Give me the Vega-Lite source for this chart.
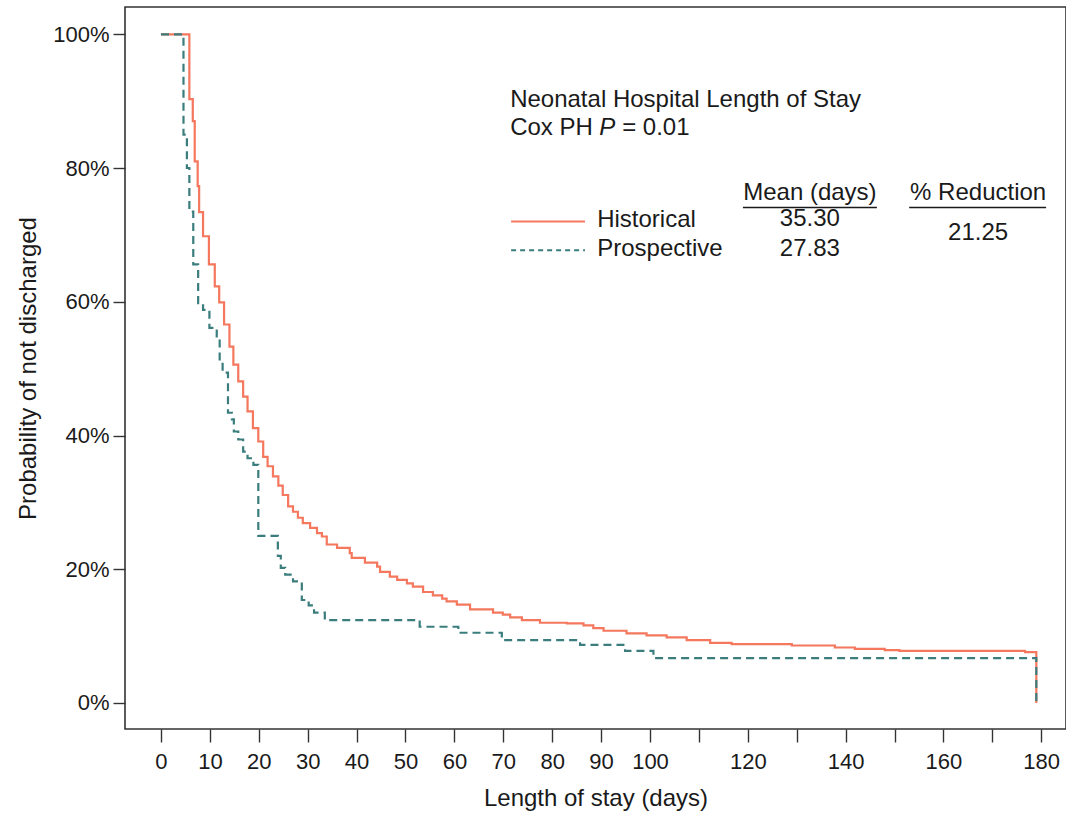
{
  "$schema": "https://vega.github.io/schema/vega-lite/v6.json",
  "width": 941,
  "height": 722,
  "autosize": "none",
  "padding": {"left": 125, "top": 7, "right": 0, "bottom": 90},
  "background": "white",
  "datasets": {
    "km": [
      {"group": "Historical", "day": 0, "surv": 1.0},
      {"group": "Historical", "day": 5.8, "surv": 0.903},
      {"group": "Historical", "day": 6.5, "surv": 0.87},
      {"group": "Historical", "day": 6.9, "surv": 0.81},
      {"group": "Historical", "day": 7.5, "surv": 0.773},
      {"group": "Historical", "day": 7.8, "surv": 0.734},
      {"group": "Historical", "day": 8.6, "surv": 0.698},
      {"group": "Historical", "day": 9.8, "surv": 0.656},
      {"group": "Historical", "day": 11.0, "surv": 0.623},
      {"group": "Historical", "day": 11.9, "surv": 0.599},
      {"group": "Historical", "day": 12.9, "surv": 0.566},
      {"group": "Historical", "day": 14.0, "surv": 0.533},
      {"group": "Historical", "day": 14.8, "surv": 0.506},
      {"group": "Historical", "day": 15.8, "surv": 0.481},
      {"group": "Historical", "day": 16.8, "surv": 0.458},
      {"group": "Historical", "day": 17.7, "surv": 0.436},
      {"group": "Historical", "day": 18.8, "surv": 0.411},
      {"group": "Historical", "day": 19.9, "surv": 0.391},
      {"group": "Historical", "day": 20.9, "surv": 0.368},
      {"group": "Historical", "day": 21.8, "surv": 0.354},
      {"group": "Historical", "day": 22.9, "surv": 0.339},
      {"group": "Historical", "day": 24.0, "surv": 0.325},
      {"group": "Historical", "day": 24.9, "surv": 0.311},
      {"group": "Historical", "day": 26.0, "surv": 0.294},
      {"group": "Historical", "day": 27.0, "surv": 0.286},
      {"group": "Historical", "day": 28.0, "surv": 0.277},
      {"group": "Historical", "day": 29.0, "surv": 0.269},
      {"group": "Historical", "day": 30.5, "surv": 0.262},
      {"group": "Historical", "day": 31.9, "surv": 0.254},
      {"group": "Historical", "day": 32.9, "surv": 0.249},
      {"group": "Historical", "day": 33.9, "surv": 0.237},
      {"group": "Historical", "day": 36.0, "surv": 0.232},
      {"group": "Historical", "day": 38.6, "surv": 0.224},
      {"group": "Historical", "day": 39.0, "surv": 0.217},
      {"group": "Historical", "day": 41.7, "surv": 0.21},
      {"group": "Historical", "day": 44.2, "surv": 0.204},
      {"group": "Historical", "day": 44.8, "surv": 0.196},
      {"group": "Historical", "day": 46.8, "surv": 0.189},
      {"group": "Historical", "day": 48.3, "surv": 0.184},
      {"group": "Historical", "day": 50.3, "surv": 0.179},
      {"group": "Historical", "day": 51.5, "surv": 0.174},
      {"group": "Historical", "day": 53.6, "surv": 0.166},
      {"group": "Historical", "day": 55.6, "surv": 0.161},
      {"group": "Historical", "day": 57.5, "surv": 0.156},
      {"group": "Historical", "day": 58.4, "surv": 0.152},
      {"group": "Historical", "day": 60.5, "surv": 0.147},
      {"group": "Historical", "day": 63.2, "surv": 0.14},
      {"group": "Historical", "day": 67.9, "surv": 0.135},
      {"group": "Historical", "day": 69.9, "surv": 0.132},
      {"group": "Historical", "day": 71.4, "surv": 0.128},
      {"group": "Historical", "day": 73.8, "surv": 0.124},
      {"group": "Historical", "day": 77.5, "surv": 0.12},
      {"group": "Historical", "day": 83.0, "surv": 0.119},
      {"group": "Historical", "day": 86.4, "surv": 0.116},
      {"group": "Historical", "day": 88.4, "surv": 0.112},
      {"group": "Historical", "day": 90.5, "surv": 0.108},
      {"group": "Historical", "day": 95.2, "surv": 0.104},
      {"group": "Historical", "day": 99.3, "surv": 0.101},
      {"group": "Historical", "day": 103.4, "surv": 0.098},
      {"group": "Historical", "day": 107.5, "surv": 0.094},
      {"group": "Historical", "day": 112.3, "surv": 0.09},
      {"group": "Historical", "day": 116.7, "surv": 0.088},
      {"group": "Historical", "day": 129.0, "surv": 0.086},
      {"group": "Historical", "day": 137.8, "surv": 0.083},
      {"group": "Historical", "day": 141.9, "surv": 0.081},
      {"group": "Historical", "day": 148.0, "surv": 0.079},
      {"group": "Historical", "day": 151.0, "surv": 0.078},
      {"group": "Historical", "day": 176.7, "surv": 0.076},
      {"group": "Historical", "day": 179.0, "surv": 0.0},
      {"group": "Prospective", "day": 0, "surv": 1.0},
      {"group": "Prospective", "day": 4.6, "surv": 0.85},
      {"group": "Prospective", "day": 5.3, "surv": 0.8},
      {"group": "Prospective", "day": 5.8, "surv": 0.735},
      {"group": "Prospective", "day": 6.6, "surv": 0.656},
      {"group": "Prospective", "day": 7.6, "surv": 0.598},
      {"group": "Prospective", "day": 8.6, "surv": 0.588},
      {"group": "Prospective", "day": 9.9, "surv": 0.561},
      {"group": "Prospective", "day": 11.4, "surv": 0.546},
      {"group": "Prospective", "day": 12.0, "surv": 0.51},
      {"group": "Prospective", "day": 12.6, "surv": 0.494},
      {"group": "Prospective", "day": 13.7, "surv": 0.434},
      {"group": "Prospective", "day": 14.5, "surv": 0.424},
      {"group": "Prospective", "day": 14.9, "surv": 0.406},
      {"group": "Prospective", "day": 15.8, "surv": 0.394},
      {"group": "Prospective", "day": 16.8, "surv": 0.376},
      {"group": "Prospective", "day": 17.7, "surv": 0.366},
      {"group": "Prospective", "day": 18.9, "surv": 0.356},
      {"group": "Prospective", "day": 19.9, "surv": 0.25},
      {"group": "Prospective", "day": 23.9, "surv": 0.22},
      {"group": "Prospective", "day": 24.5, "surv": 0.202},
      {"group": "Prospective", "day": 25.4, "surv": 0.192},
      {"group": "Prospective", "day": 27.0, "surv": 0.182},
      {"group": "Prospective", "day": 28.8, "surv": 0.154},
      {"group": "Prospective", "day": 30.2, "surv": 0.146},
      {"group": "Prospective", "day": 31.3, "surv": 0.135},
      {"group": "Prospective", "day": 33.5, "surv": 0.124},
      {"group": "Prospective", "day": 52.9, "surv": 0.114},
      {"group": "Prospective", "day": 60.8, "surv": 0.105},
      {"group": "Prospective", "day": 69.7, "surv": 0.094},
      {"group": "Prospective", "day": 85.7, "surv": 0.087},
      {"group": "Prospective", "day": 94.9, "surv": 0.078},
      {"group": "Prospective", "day": 100.7, "surv": 0.067},
      {"group": "Prospective", "day": 179.0, "surv": 0.0}
    ]
  },
  "encoding": {
    "x": {
      "field": "day",
      "type": "quantitative",
      "scale": {"domain": [-7.36, 185.07], "nice": false, "zero": false},
      "axis": {
        "title": "Length of stay (days)",
        "values": [0, 10, 20, 30, 40, 50, 60, 70, 80, 90, 100, 110, 120, 130, 140, 150, 160, 170, 180],
        "labelExpr": "indexof([110, 130, 150, 170], datum.value) >= 0 ? '' : datum.label",
        "labelOverlap": false,
        "labelFlush": false,
        "domain": false,
        "grid": false,
        "tickSize": 13,
        "labelPadding": 9,
        "titlePadding": 14
      }
    },
    "y": {
      "field": "surv",
      "type": "quantitative",
      "scale": {"domain": [-0.0389, 1.0408], "nice": false, "zero": false},
      "axis": {
        "title": "Probability of not discharged",
        "values": [0, 0.2, 0.4, 0.6, 0.8, 1],
        "format": ".0%",
        "domain": false,
        "grid": false,
        "tickSize": 12,
        "labelPadding": 4,
        "titlePadding": 12
      }
    }
  },
  "layer": [
    {
      "data": {"name": "km"},
      "transform": [{"filter": "datum.group === 'Historical'"}],
      "mark": {"type": "line", "interpolate": "step-after", "color": "#F4775E", "strokeWidth": 2.2}
    },
    {
      "data": {"name": "km"},
      "transform": [{"filter": "datum.group === 'Prospective'"}],
      "mark": {"type": "line", "interpolate": "step-after", "color": "#3B7D7D", "strokeWidth": 2.2, "strokeDash": [8, 5]}
    },
    {
      "data": {"values": [
        {"group": "Historical", "x1": 71.6, "x2": 86.7, "y1": 0.72},
        {"group": "Prospective", "x1": 71.6, "x2": 86.7, "y1": 0.677}
      ]},
      "mark": {"type": "rule", "strokeWidth": 2},
      "encoding": {
        "x": {"field": "x1", "type": "quantitative"},
        "x2": {"field": "x2"},
        "y": {"field": "y1", "type": "quantitative"},
        "color": {"field": "group", "type": "nominal", "scale": {"domain": ["Historical", "Prospective"], "range": ["#F4775E", "#3B7D7D"]}, "legend": null},
        "strokeDash": {"field": "group", "type": "nominal", "scale": {"domain": ["Historical", "Prospective"], "range": [[1, 0], [5, 4]]}, "legend": null}
      }
    },
    {
      "data": {"values": [
        {"x1": 119.0, "x2": 146.4, "y1": 0.741},
        {"x1": 153.0, "x2": 181.0, "y1": 0.741}
      ]},
      "mark": {"type": "rule", "strokeWidth": 1.5, "color": "#1a1a1a"},
      "encoding": {
        "x": {"field": "x1", "type": "quantitative"},
        "x2": {"field": "x2"},
        "y": {"field": "y1", "type": "quantitative"}
      }
    },
    {
      "data": {"values": [
        {"t": "Neonatal Hospital Length of Stay", "x1": 71.4, "y1": 0.902},
        {"t": "Cox PH", "x1": 71.4, "y1": 0.86},
        {"t": "= 0.01", "x1": 94.3, "y1": 0.86},
        {"t": "Historical", "x1": 89.2, "y1": 0.723},
        {"t": "Prospective", "x1": 89.2, "y1": 0.679}
      ]},
      "mark": {"type": "text", "align": "left", "baseline": "middle", "fontSize": 24, "font": "Liberation Sans", "color": "#1a1a1a"},
      "encoding": {
        "x": {"field": "x1", "type": "quantitative"},
        "y": {"field": "y1", "type": "quantitative"},
        "text": {"field": "t"}
      }
    },
    {
      "data": {"values": [
        {"t": "P", "x1": 89.6, "y1": 0.86}
      ]},
      "mark": {"type": "text", "align": "left", "baseline": "middle", "fontSize": 24, "font": "Liberation Sans", "fontStyle": "italic", "color": "#1a1a1a"},
      "encoding": {
        "x": {"field": "x1", "type": "quantitative"},
        "y": {"field": "y1", "type": "quantitative"},
        "text": {"field": "t"}
      }
    },
    {
      "data": {"values": [
        {"t": "Mean (days)", "x1": 132.7, "y1": 0.762},
        {"t": "% Reduction", "x1": 167.1, "y1": 0.762},
        {"t": "35.30", "x1": 132.7, "y1": 0.724},
        {"t": "27.83", "x1": 132.7, "y1": 0.679},
        {"t": "21.25", "x1": 167.1, "y1": 0.703}
      ]},
      "mark": {"type": "text", "align": "center", "baseline": "middle", "fontSize": 24, "font": "Liberation Sans", "color": "#1a1a1a"},
      "encoding": {
        "x": {"field": "x1", "type": "quantitative"},
        "y": {"field": "y1", "type": "quantitative"},
        "text": {"field": "t"}
      }
    }
  ],
  "config": {
    "view": {"stroke": "#333333", "strokeWidth": 1.6},
    "font": "Liberation Sans",
    "axis": {
      "labelFont": "Liberation Sans",
      "titleFont": "Liberation Sans",
      "labelFontSize": 22,
      "titleFontSize": 24,
      "titleFontWeight": "normal",
      "labelColor": "#1a1a1a",
      "titleColor": "#1a1a1a",
      "tickColor": "#333333",
      "tickWidth": 1.4
    }
  }
}
